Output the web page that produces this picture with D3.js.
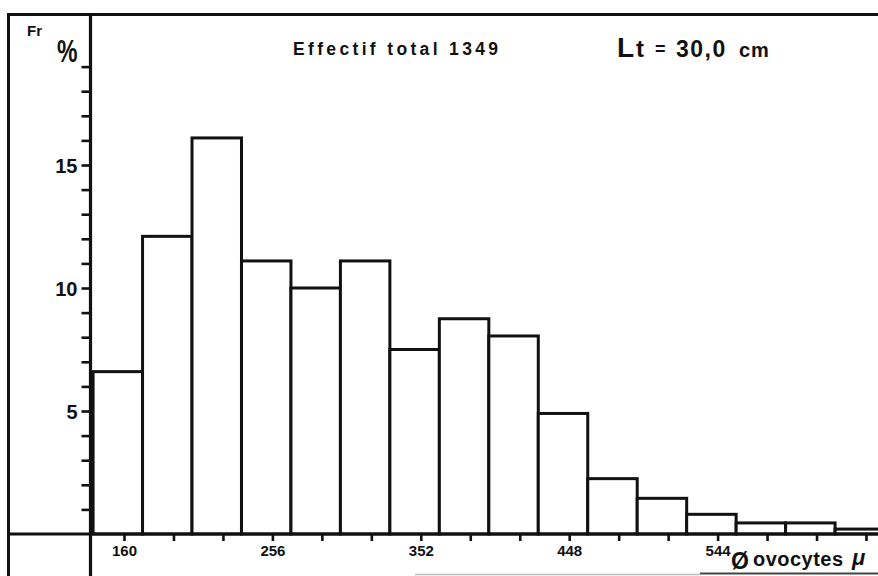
<!DOCTYPE html>
<html>
<head>
<meta charset="utf-8">
<script src="https://cdn.jsdelivr.net/npm/d3@7"></script>
<style>
  html, body { margin: 0; padding: 0; background: #fff; }
  svg { display: block; }
  text { font-family: "Liberation Sans", Arial, Helvetica, sans-serif; font-weight: bold; fill: #111; }
</style>
</head>
<body>
<svg id="chart" width="878" height="576"></svg>
<script>
// ---- data ----
const binEdges = [140, 172, 204, 236, 268, 300, 332, 364, 396, 428, 460, 492, 524, 556, 588, 620, 652];
const frequencies = [6.6, 12.1, 16.1, 11.1, 10.0, 11.1, 7.5, 8.75, 8.05, 4.9, 2.25, 1.45, 0.8, 0.45, 0.45, 0.2];
const xTicks = [160, 192, 224, 256, 288, 320, 352, 384, 416, 448, 480, 512, 544, 576, 608, 640];
const xTickLabels = [160, 256, 352, 448, 544];
const yTicks = [1, 2, 3, 4, 5, 6, 7, 8, 9, 10, 11, 12, 13, 14, 15, 16, 17, 18, 19];
const yTickLabels = [5, 10, 15];
const titleText = "Effectif total  1349";
const yUnitTop = "Fr";
const yUnit = "%";
const xAxisTitle = "ovocytes";

const bins = frequencies.map((v, i) => ({ x0: binEdges[i], x1: binEdges[i + 1], v }));

// ---- layout ----
const W = 878, H = 576;
const frameLeft = 8.5, frameTop = 14.5;
const axisX = 90.5, axisY = 534;
const svg = d3.select("#chart");

const x = d3.scaleLinear().domain([160, 640]).range([124, 866]);
const y = d3.scaleLinear().domain([0, 15]).range([axisY, 165]);

const ink = "#111";
// frame lines
svg.append("line").attr("x1", frameLeft).attr("x2", W).attr("y1", frameTop).attr("y2", frameTop)
  .attr("stroke", ink).attr("stroke-width", 3);
svg.append("line").attr("x1", frameLeft).attr("x2", frameLeft).attr("y1", frameTop - 1.5).attr("y2", H)
  .attr("stroke", ink).attr("stroke-width", 3);
// faint bottom border
svg.append("line").attr("x1", 415).attr("x2", 700).attr("y1", 574.5).attr("y2", 574.5)
  .attr("stroke", "#bbb").attr("stroke-width", 1.5);
svg.append("line").attr("x1", 700).attr("x2", W).attr("y1", 573.5).attr("y2", 573.5)
  .attr("stroke", "#444").attr("stroke-width", 2);

// bars
svg.append("g").selectAll("rect").data(bins).join("rect")
  .attr("x", d => x(d.x0))
  .attr("y", d => y(d.v))
  .attr("width", d => x(d.x1) - x(d.x0))
  .attr("height", d => y(0) - y(d.v))
  .attr("fill", "#fff")
  .attr("stroke", ink)
  .attr("stroke-width", 3);

// axis lines
svg.append("line").attr("x1", frameLeft).attr("x2", W).attr("y1", axisY).attr("y2", axisY)
  .attr("stroke", ink).attr("stroke-width", 3.2);
svg.append("line").attr("x1", axisX).attr("x2", axisX).attr("y1", frameTop - 1.5).attr("y2", H)
  .attr("stroke", ink).attr("stroke-width", 3.2);

// x axis ticks
const xAxis = d3.axisBottom(x).tickValues(xTicks).tickSize(7)
  .tickFormat(d => xTickLabels.includes(d) ? String(d) : "");
const gx = svg.append("g").attr("transform", `translate(0,${axisY})`).call(xAxis);
gx.select(".domain").remove();
gx.selectAll(".tick line").attr("stroke", ink).attr("stroke-width", 2.6);
gx.selectAll(".tick text").attr("y", 22).attr("dy", 0)
  .attr("font-size", 15).attr("fill", ink)
  .attr("font-family", "'Liberation Sans', Arial, sans-serif").attr("font-weight", "bold");

// y axis ticks
const yAxis = d3.axisLeft(y).tickValues(yTicks).tickSize(9)
  .tickFormat(d => yTickLabels.includes(d) ? String(d) : "");
const gy = svg.append("g").attr("transform", `translate(${axisX},0)`).call(yAxis);
gy.select(".domain").remove();
gy.selectAll(".tick line").attr("stroke", ink).attr("stroke-width", 2.6);
gy.selectAll(".tick text").attr("x", -13).attr("dy", "0.36em")
  .attr("font-size", 20).attr("fill", ink)
  .attr("font-family", "'Liberation Sans', Arial, sans-serif").attr("font-weight", "bold");

// unit labels
svg.append("text").attr("x", 27).attr("y", 36).attr("font-size", 15).text(yUnitTop);
svg.append("text").attr("transform", "translate(57,62) scale(0.72,1)")
  .attr("font-size", 32).text(yUnit);

// title
svg.append("text").attr("x", 293).attr("y", 55).attr("font-size", 17.5)
  .attr("textLength", 205).attr("lengthAdjust", "spacing").text(titleText);

// Lt = 30,0 cm
const lt = svg.append("text").attr("y", 57);
lt.append("tspan").attr("x", 617).attr("font-size", 28).text("L");
lt.append("tspan").attr("x", 636).attr("font-size", 24).text("t");
lt.append("tspan").attr("x", 655).attr("font-size", 18).attr("dy", -2).text("=");
lt.append("tspan").attr("x", 676).attr("font-size", 23).attr("dy", 2).attr("letter-spacing", 1.5).text("30,0");
lt.append("tspan").attr("x", 739).attr("font-size", 20).attr("letter-spacing", 1).text("cm");

// x axis title
svg.append("text").attr("x", 731).attr("y", 569).attr("font-size", 23).attr("font-weight", "normal")
  .attr("font-family", "'DejaVu Sans', sans-serif").text("Ø");
svg.append("text").attr("x", 753).attr("y", 566).attr("font-size", 20)
  .attr("textLength", 90).attr("lengthAdjust", "spacing").text(xAxisTitle);
svg.append("text").attr("x", 852).attr("y", 565).attr("font-size", 22).attr("font-weight", "normal")
  .attr("font-style", "italic").attr("font-family", "'Liberation Serif', serif").text("μ");
</script>
</body>
</html>
